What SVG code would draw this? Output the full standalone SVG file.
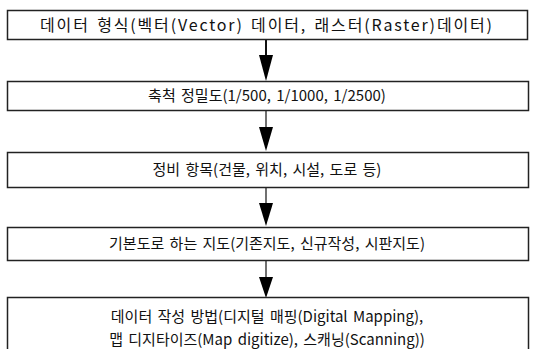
<svg xmlns="http://www.w3.org/2000/svg" width="541" height="349" viewBox="0 0 541 349">
<style>
.box{fill:#fff;stroke:#222;stroke-width:1.5}
.t{font-family:"Noto Sans CJK KR","Noto Sans",sans-serif;font-size:15px;word-spacing:2px;fill:#111}
.c{text-anchor:middle}
.ln{stroke:#111;stroke-width:1.2;fill:none}
.hd{fill:#000}
</style>
<rect width="541" height="349" fill="#fff"/>
<g id="connectors">
<line class="ln" x1="266" y1="39" x2="266" y2="56" style="stroke-width:2"/>
<polygon class="hd" points="259,55 273,55 266,81"/>
<line class="ln" x1="266" y1="110" x2="266" y2="128"/>
<polygon class="hd" points="259,127 273,127 266,151"/>
<line class="ln" x1="266" y1="188" x2="266" y2="205"/>
<polygon class="hd" points="259,203 273,203 266,226"/>
<line class="ln" x1="266" y1="261" x2="266" y2="279"/>
<polygon class="hd" points="259,277 273,277 266,298"/>
</g>
<g id="n1"><rect class="box" x="7.5" y="10.5" width="520" height="29"/><text class="t" x="40" y="31" style="font-size:16px" textLength="452" lengthAdjust="spacing">데이터 형식(벡터(Vector) 데이터, 래스터(Raster)데이터)</text></g>
<g id="n2"><rect class="box" x="7.5" y="81.5" width="521" height="29"/><text class="t c" x="267" y="101">축척 정밀도(1/500, 1/1000, 1/2500)</text></g>
<g id="n3"><rect class="box" x="7.5" y="152.5" width="521" height="35"/><text class="t c" x="267" y="175">정비 항목(건물, 위치, 시설, 도로 등)</text></g>
<g id="n4"><rect class="box" x="7.5" y="227.5" width="521" height="33"/><text class="t c" x="267" y="249">기본도로 하는 지도(기존지도, 신규작성, 시판지도)</text></g>
<g id="n5"><rect class="box" x="7.5" y="297.5" width="521" height="60"/><text class="t c" x="267" y="322">데이터 작성 방법(디지털 매핑(Digital Mapping),</text><text class="t c" x="267" y="345">맵 디지타이즈(Map digitize), 스캐닝(Scanning))</text></g>
</svg>
